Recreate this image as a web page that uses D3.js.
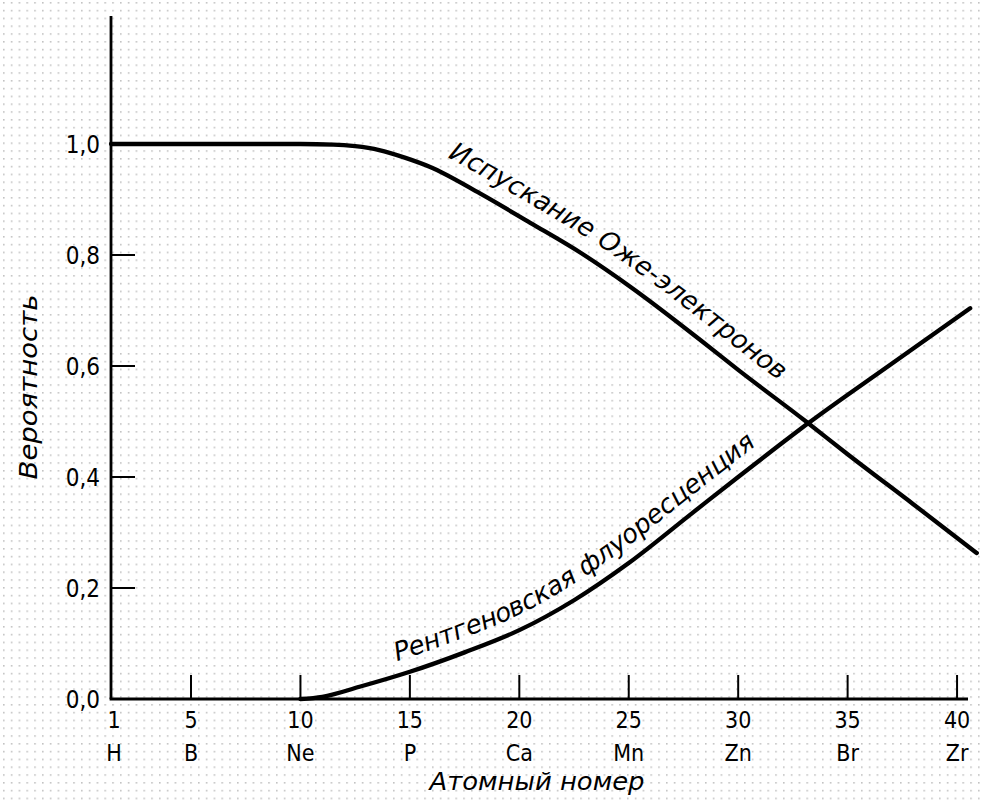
<!DOCTYPE html>
<html><head><meta charset="utf-8">
<script src="https://cdn.jsdelivr.net/npm/d3@7"></script>
<style>
html,body{margin:0;padding:0;background:#fff;}
svg{display:block;}
text{font-family:"DejaVu Sans Condensed","DejaVu Sans",sans-serif;font-stretch:condensed;fill:#000;}
</style></head>
<body>
<script>
// ---- data ----
const xTickValues = [1, 5, 10, 15, 20, 25, 30, 35, 40];
const elementLabels = ["H", "B", "Ne", "P", "Ca", "Mn", "Zn", "Br", "Zr"];
const yTickValues = [0, 0.2, 0.4, 0.6, 0.8, 1.0];
const yTickLabels = ["0,0", "0,2", "0,4", "0,6", "0,8", "1,0"];

const augerZ = [1, 5, 10, 11.5, 12.5, 13.6, 14.8, 15.9, 18.2, 20.5, 22.8, 25.1, 28.3, 30, 33.1, 35, 38, 40.9];
const augerP = [1, 1, 1, 0.999, 0.996, 0.989, 0.975, 0.959, 0.911, 0.858, 0.804, 0.742, 0.646, 0.593, 0.50, 0.441, 0.351, 0.263];
const fluorZ = [10, 11, 12.7, 15, 17.5, 20, 22.5, 25, 27.9, 30, 31.9, 33.1, 36.9, 40.6];
const fluorP = [0, 0.004, 0.022, 0.049, 0.084, 0.124, 0.178, 0.245, 0.335, 0.400, 0.458, 0.494, 0.601, 0.704];

const augerLabel = "Испускание Оже-электронов";
const fluorLabel = "Рентгеновская флуоресценция";
const xTitle = "Атомный номер";
const yTitle = "Вероятность";

// ---- drawing ----
const W = 982, H = 805;
const svg = d3.select("body").append("svg").attr("width", W).attr("height", H);

const defs = svg.append("defs");
const pat = defs.append("pattern").attr("id", "dots").attr("patternUnits", "userSpaceOnUse")
  .attr("width", 7.8).attr("height", 7.8).attr("x", 3).attr("y", 2);
pat.append("rect").attr("x", 0).attr("y", 0).attr("width", 1.6).attr("height", 1.6).attr("fill", "#c2c2c2");
svg.append("rect").attr("width", W).attr("height", H).attr("fill", "#fff");
svg.append("rect").attr("width", W).attr("height", H).attr("fill", "url(#dots)");

const x = d3.scaleLinear().domain([1, 5, 40.5]).range([111, 191, 968]);
const y = d3.scaleLinear().domain([0, 1]).range([699, 144]);

// axes
const axisColor = "#000";
svg.append("line").attr("x1", x(1)).attr("x2", x(1)).attr("y1", 16).attr("y2", y(0))
  .attr("stroke", axisColor).attr("stroke-width", 2.8);
svg.append("line").attr("x1", x(1) - 1.4).attr("x2", x(40.5)).attr("y1", y(0)).attr("y2", y(0))
  .attr("stroke", axisColor).attr("stroke-width", 2.8);

// y ticks (inward) and labels
const yTicks = svg.append("g");
yTickValues.forEach((v, i) => {
  if (v > 0 && v < 1) {
    yTicks.append("line").attr("x1", x(1)).attr("x2", x(1) + 24).attr("y1", y(v)).attr("y2", y(v))
      .attr("stroke", axisColor).attr("stroke-width", 2);
  }
  yTicks.append("text").attr("x", 100).attr("y", y(v) + 9).attr("text-anchor", "end")
    .attr("font-size", 24).text(yTickLabels[i]);
});

// x ticks (inward, upward) and labels
const xTicks = svg.append("g");
xTickValues.forEach((v, i) => {
  if (v > 1) {
    xTicks.append("line").attr("x1", x(v)).attr("x2", x(v)).attr("y1", y(0)).attr("y2", y(0) - 24)
      .attr("stroke", axisColor).attr("stroke-width", 2);
  }
  const cx = v === 1 ? x(v) + 3 : x(v);
  xTicks.append("text").attr("x", cx).attr("y", 728).attr("text-anchor", "middle")
    .attr("font-size", 23).text(v);
  xTicks.append("text").attr("x", cx).attr("y", 761).attr("text-anchor", "middle")
    .attr("font-size", 23).text(elementLabels[i]);
});

// axis titles
svg.append("text").attr("x", 537).attr("y", 790).attr("text-anchor", "middle")
  .attr("font-size", 25).attr("font-style", "italic")
  .attr("textLength", 215).attr("lengthAdjust", "spacingAndGlyphs").text(xTitle);
svg.append("text").attr("transform", "translate(37,387) rotate(-90)").attr("text-anchor", "middle")
  .attr("font-size", 24).attr("font-style", "italic")
  .attr("textLength", 185).attr("lengthAdjust", "spacingAndGlyphs").text(yTitle);

// curves
const line = d3.line().x(d => x(d[0])).y(d => y(d[1])).curve(d3.curveMonotoneX);
const augerData = augerZ.map((z, i) => [z, augerP[i]]);
const fluorData = fluorZ.map((z, i) => [z, fluorP[i]]);

svg.append("path").attr("id", "augerPath").attr("d", line(augerData)).attr("fill", "none")
  .attr("stroke", "#000").attr("stroke-width", 4.3).attr("stroke-linecap", "round");
svg.append("path").attr("id", "fluorPath").attr("d", line(fluorData)).attr("fill", "none")
  .attr("stroke", "#000").attr("stroke-width", 4.3).attr("stroke-linecap", "round");

// labels along curves
svg.append("text").attr("font-size", 26).attr("font-style", "italic").attr("dy", -16)
  .attr("textLength", 398).attr("lengthAdjust", "spacingAndGlyphs")
  .append("textPath").attr("href", "#augerPath").attr("startOffset", 333).text(augerLabel);
svg.append("text").attr("font-size", 26).attr("font-style", "italic").attr("dy", -14)
  .attr("textLength", 428).attr("lengthAdjust", "spacingAndGlyphs")
  .append("textPath").attr("href", "#fluorPath").attr("startOffset", 104).text(fluorLabel);
</script>
</body></html>
